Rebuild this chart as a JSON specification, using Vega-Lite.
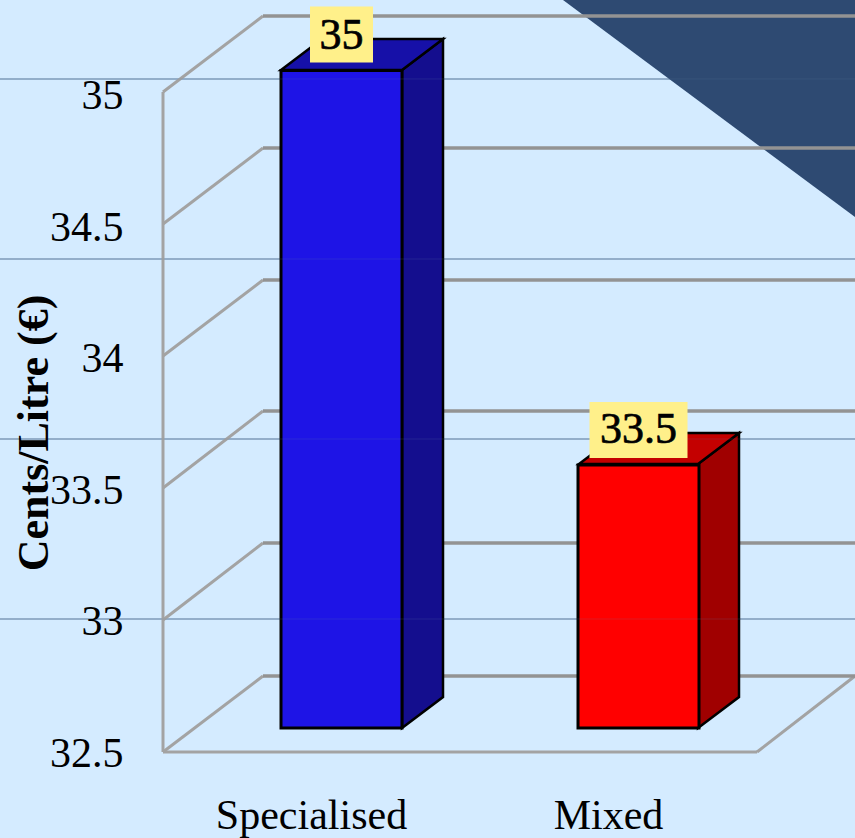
{
"$schema":"https://vega.github.io/schema/vega-lite/v6.json",
"width":594,"height":657.5,
"autosize":{"type":"none"},
"padding":{"left":163,"top":94.5,"right":98,"bottom":86},
"background":"#D4EBFF",
"config":{"view":{"stroke":null},"font":"Liberation Serif"},
"datasets":{
"bars":[{"category":"Specialised","value":35},{"category":"Mixed","value":33.5}],
"slideLines":[{"x":0,"x2":855,"value":35.059},{"x":0,"x2":855,"value":34.3745},{"x":0,"x2":855,"value":33.6901},{"x":0,"x2":855,"value":33.0057}],
"corner":[{"x":563,"value":35.3593,"y2":35.3593},{"x":855,"value":35.3593,"y2":34.5342}],
"backGrid":[{"x":263,"x2":855,"value":35.2985},{"x":263,"x2":855,"value":34.7966},{"x":263,"x2":855,"value":34.2947},{"x":263,"x2":855,"value":33.7966},{"x":263,"x2":855,"value":33.2947},{"x":263,"x2":855,"value":32.789}],
"wallFloor":[
{"x":163,"value":35.0095,"x2":263,"y2":35.2985},
{"x":163,"value":34.5076,"x2":263,"y2":34.7966},
{"x":163,"value":34.0057,"x2":263,"y2":34.2947},
{"x":163,"value":33.5038,"x2":263,"y2":33.7966},
{"x":163,"value":33.0019,"x2":263,"y2":33.2947},
{"x":163,"value":32.5,"x2":263,"y2":32.789},
{"x":163,"value":35.0095,"x2":163,"y2":32.5},
{"x":163,"value":32.5,"x2":757,"y2":32.5},
{"x":757,"value":32.5,"x2":855,"y2":32.789}],
"faces":[
{"part":"Specialised side","x":402,"value":35.0932,"y2":32.5913},
{"part":"Specialised side","x":443,"value":35.211,"y2":32.7091},
{"part":"Specialised top","x":281,"value":35.0932,"y2":35.0932},
{"part":"Specialised top","x":322,"value":35.211,"y2":35.0932},
{"part":"Specialised top","x":402,"value":35.211,"y2":35.0932},
{"part":"Specialised top","x":443,"value":35.211,"y2":35.211},
{"part":"Mixed side","x":698,"value":33.5951,"y2":32.5913},
{"part":"Mixed side","x":739,"value":33.7129,"y2":32.7091},
{"part":"Mixed top","x":579,"value":33.5951,"y2":33.5951},
{"part":"Mixed top","x":620,"value":33.7129,"y2":33.5951},
{"part":"Mixed top","x":698,"value":33.7129,"y2":33.5951},
{"part":"Mixed top","x":739,"value":33.7129,"y2":33.7129}]
},
"encoding":{"y":{"field":"value","type":"quantitative","stack":null,"scale":{"domain":[32.5,35],"nice":false,"zero":false},
  "axis":{"values":[32.5,33,33.5,34,34.5,35],"title":"Cents/Litre (€)","titleFont":"Liberation Serif","titleFontSize":44,"titleFontWeight":"bold","titleColor":"#000","titleAngle":270,"titleX":-116,"titleY":338,"titleAlign":"center","titleBaseline":"alphabetic","labelFont":"Liberation Serif","labelFontSize":42,"labelColor":"#000","labelPadding":40,"labelOffset":1,"ticks":false,"domain":false,"grid":false,"zindex":1,"format":"~g"}}},
"resolve":{"scale":{"x":"independent"},"axis":{"x":"independent"}},
"layer":[
{"data":{"name":"slideLines"},"mark":{"type":"rule","stroke":"#5F7FA0","strokeWidth":1.2,"clip":false},
 "encoding":{"x":{"field":"x","type":"quantitative","scale":{"domain":[163,757]},"axis":null},"x2":{"field":"x2"}}},
{"data":{"name":"corner"},"mark":{"type":"area","fill":"#2E4A72","clip":false},
 "encoding":{"x":{"field":"x","type":"quantitative","scale":{"domain":[163,757]},"axis":null},"y2":{"field":"y2"}}},
{"data":{"name":"wallFloor"},"mark":{"type":"rule","stroke":"#A3A3A3","strokeWidth":3,"clip":false},
 "encoding":{"x":{"field":"x","type":"quantitative","scale":{"domain":[163,757]},"axis":null},"x2":{"field":"x2"},"y2":{"field":"y2"}}},
{"data":{"name":"backGrid"},"mark":{"type":"rule","stroke":"#939393","strokeWidth":3.5,"clip":false},
 "encoding":{"x":{"field":"x","type":"quantitative","scale":{"domain":[163,757]},"axis":null},"x2":{"field":"x2"}}},
{"data":{"name":"faces"},"mark":{"type":"area","stroke":"#000","strokeWidth":2.5,"clip":false},
 "encoding":{"x":{"field":"x","type":"quantitative","scale":{"domain":[163,757]},"axis":null},"y2":{"field":"y2"},
 "color":{"field":"part","type":"nominal","legend":null,"scale":{"domain":["Specialised side","Specialised top","Mixed side","Mixed top","Specialised","Mixed"],"range":["#140E8E","#1610A8","#A00000","#C40000","#1E14E6","#FF0000"]}}}},
{"data":{"name":"bars"},"mark":{"type":"bar","width":121,"xOffset":30,"yOffset":-24,"y2Offset":-24,"stroke":"#000","strokeWidth":3,"clip":false},
 "encoding":{"x":{"field":"category","type":"nominal","sort":null,"scale":{"domain":["Specialised","Mixed"],"paddingInner":0,"paddingOuter":0},
  "axis":{"title":null,"labelFont":"Liberation Serif","labelFontSize":42,"labelColor":"#000","labelAngle":0,"labelPadding":43,"labelLimit":0,"ticks":false,"domain":false,"grid":false}},
 "y2":{"datum":32.5},
 "color":{"field":"category","type":"nominal","legend":null,"scale":{"domain":["Specialised side","Specialised top","Mixed side","Mixed top","Specialised","Mixed"],"range":["#140E8E","#1610A8","#A00000","#C40000","#1E14E6","#FF0000"]}}}},
{"data":{"name":"slideLines"},"mark":{"type":"rule","stroke":"#5F7FA0","strokeWidth":1,"opacity":0.2,"clip":false},
 "encoding":{"x":{"field":"x","type":"quantitative","scale":{"domain":[163,757]},"axis":null},"x2":{"field":"x2"}}},
{"data":{"name":"bars"},"transform":[{"filter":"datum.category=='Specialised'"}],"mark":{"type":"tick","size":63,"thickness":56,"color":"#FFF08A","opacity":1,"xOffset":30,"yOffset":-60,"clip":false},
 "encoding":{"x":{"field":"category","type":"nominal","sort":null,"scale":{"domain":["Specialised","Mixed"],"paddingInner":0,"paddingOuter":0},"axis":null}}},
{"data":{"name":"bars"},"transform":[{"filter":"datum.category=='Mixed'"}],"mark":{"type":"tick","size":98,"thickness":56,"color":"#FFF08A","opacity":1,"xOffset":30,"yOffset":-59,"clip":false},
 "encoding":{"x":{"field":"category","type":"nominal","sort":null,"scale":{"domain":["Specialised","Mixed"],"paddingInner":0,"paddingOuter":0},"axis":null}}},
{"data":{"name":"bars"},"mark":{"type":"text","font":"Liberation Serif","fontSize":44,"color":"#000","stroke":"#000","strokeWidth":0.7,"align":"center","baseline":"middle","xOffset":30,"yOffset":-59,"clip":false},
 "encoding":{"x":{"field":"category","type":"nominal","sort":null,"scale":{"domain":["Specialised","Mixed"],"paddingInner":0,"paddingOuter":0},"axis":null},
 "text":{"field":"value","type":"quantitative"}}}
]
}
